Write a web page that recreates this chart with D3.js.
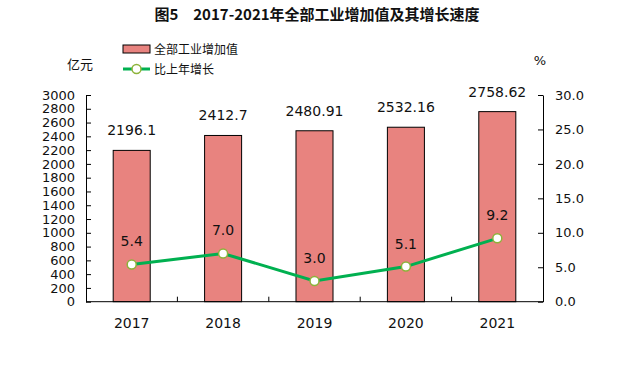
<!DOCTYPE html>
<html>
<head>
<meta charset="utf-8">
<script src="https://cdn.jsdelivr.net/npm/d3@7"></script>
<style>
  body { margin: 0; background: #fff; }
  svg { display: block; }
  text { font-family: Tahoma, "DejaVu Sans", "Noto Sans CJK SC", sans-serif; fill: #111; }
</style>
</head>
<body>
<svg id="chart" width="625" height="376"></svg>
<script>
// =========================
// DADES
// =========================
const years = ["2017", "2018", "2019", "2020", "2021"];
const valueAdded = [2196.1, 2412.7, 2480.91, 2532.16, 2758.62];
const valueLabels = ["2196.1", "2412.7", "2480.91", "2532.16", "2758.62"];
const growth = [5.4, 7.0, 3.0, 5.1, 9.2];
const leftTicks = d3.range(0, 3001, 200);
const rightTicks = [0, 5, 10, 15, 20, 25, 30];

const cjk = '"Noto Sans CJK SC", sans-serif';

// =========================
// ESCALES
// =========================
const svg = d3.select("#chart");
const plotLeft = 86, plotRight = 543, plotTop = 95, plotBottom = 301.7;

const x = d3.scaleBand().domain(years).range([plotLeft, plotRight]);
const yL = d3.scaleLinear().domain([0, 3000]).range([plotBottom, plotTop]);
const yR = d3.scaleLinear().domain([0, 30]).range([plotBottom, plotTop]);

// =========================
// TÍTOL I LLEGENDA
// =========================
svg.append("text")
  .attr("x", 317).attr("y", 20)
  .attr("text-anchor", "middle")
  .style("font-family", cjk)
  .style("font-size", "15px")
  .style("font-weight", "bold")
  .text("图5　2017-2021年全部工业增加值及其增长速度");

svg.append("text")
  .attr("x", 80).attr("y", 69)
  .attr("text-anchor", "middle")
  .style("font-family", cjk)
  .style("font-size", "13px")
  .text("亿元");

svg.append("text")
  .attr("x", 540).attr("y", 65)
  .attr("text-anchor", "middle")
  .style("font-size", "13px")
  .text("%");

const legend = svg.append("g");
legend.append("rect")
  .attr("x", 123).attr("y", 45).attr("width", 27).attr("height", 8)
  .attr("fill", "#e8837f").attr("stroke", "#000").attr("stroke-width", 1);
legend.append("text")
  .attr("x", 154).attr("y", 53.5)
  .style("font-family", cjk).style("font-size", "12px")
  .text("全部工业增加值");
legend.append("line")
  .attr("x1", 123).attr("x2", 150).attr("y1", 69).attr("y2", 69)
  .attr("stroke", "#00b050").attr("stroke-width", 3);
legend.append("circle")
  .attr("cx", 136.5).attr("cy", 69).attr("r", 4.5)
  .attr("fill", "#fff").attr("stroke", "#8db33a").attr("stroke-width", 1.5);
legend.append("text")
  .attr("x", 154).attr("y", 74)
  .style("font-family", cjk).style("font-size", "12px")
  .text("比上年增长");

// =========================
// BARRES
// =========================
const barW = x.bandwidth() * 0.405;
const cx = d => x(d) + x.bandwidth() / 2;

svg.selectAll(".bar")
  .data(years)
  .enter()
  .append("rect")
  .attr("class", "bar")
  .attr("x", (d) => cx(d) - barW / 2)
  .attr("width", barW)
  .attr("y", (d, i) => yL(valueAdded[i]))
  .attr("height", (d, i) => plotBottom - yL(valueAdded[i]))
  .attr("fill", "#e8837f")
  .attr("stroke", "#000")
  .attr("stroke-width", 1);

svg.selectAll(".bar-label")
  .data(years)
  .enter()
  .append("text")
  .attr("x", d => cx(d))
  .attr("y", (d, i) => yL(valueAdded[i]) - 15)
  .attr("text-anchor", "middle")
  .style("font-size", "14px")
  .text((d, i) => valueLabels[i]);

// =========================
// EIXOS
// =========================
const axisL = svg.append("g")
  .attr("transform", `translate(${plotLeft},0)`)
  .call(d3.axisRight(yL).tickValues(leftTicks).tickSize(5).tickSizeOuter(0).tickFormat(d3.format("d")));
axisL.selectAll("text").attr("x", -11).attr("text-anchor", "end");

const axisR = svg.append("g")
  .attr("transform", `translate(${plotRight},0)`)
  .call(d3.axisLeft(yR).tickValues(rightTicks).tickSize(5).tickSizeOuter(0).tickFormat(d3.format(".1f")));
axisR.selectAll("text").attr("x", 12).attr("text-anchor", "start");

[axisL, axisR].forEach(a => {
  a.select(".domain").attr("stroke", "#000");
  a.selectAll(".tick line").attr("stroke", "#000");
  a.selectAll("text").style("font-size", "13px").attr("fill", "#111");
});

// eix X
svg.append("line")
  .attr("x1", plotLeft).attr("x2", plotRight).attr("y1", plotBottom).attr("y2", plotBottom)
  .attr("stroke", "#000");
svg.selectAll(".xtick")
  .data(years.slice(1))
  .enter()
  .append("line")
  .attr("x1", d => x(d)).attr("x2", d => x(d))
  .attr("y1", plotBottom).attr("y2", plotBottom - 5)
  .attr("stroke", "#000");
svg.selectAll(".xlabel")
  .data(years)
  .enter()
  .append("text")
  .attr("x", d => cx(d))
  .attr("y", 328)
  .attr("text-anchor", "middle")
  .style("font-size", "14px")
  .text(d => d);

// =========================
// LÍNIA
// =========================
const line = d3.line()
  .x((d, i) => cx(years[i]))
  .y(d => yR(d));

svg.append("path")
  .datum(growth)
  .attr("d", line)
  .attr("fill", "none")
  .attr("stroke", "#00b050")
  .attr("stroke-width", 3);

svg.selectAll(".dot")
  .data(growth)
  .enter()
  .append("circle")
  .attr("cx", (d, i) => cx(years[i]))
  .attr("cy", d => yR(d))
  .attr("r", 4.5)
  .attr("fill", "#fff")
  .attr("stroke", "#8db33a")
  .attr("stroke-width", 1.5);

svg.selectAll(".dot-label")
  .data(growth)
  .enter()
  .append("text")
  .attr("x", (d, i) => cx(years[i]))
  .attr("y", d => yR(d) - 18)
  .attr("text-anchor", "middle")
  .style("font-size", "14px")
  .text(d => d.toFixed(1));
</script>
</body>
</html>
